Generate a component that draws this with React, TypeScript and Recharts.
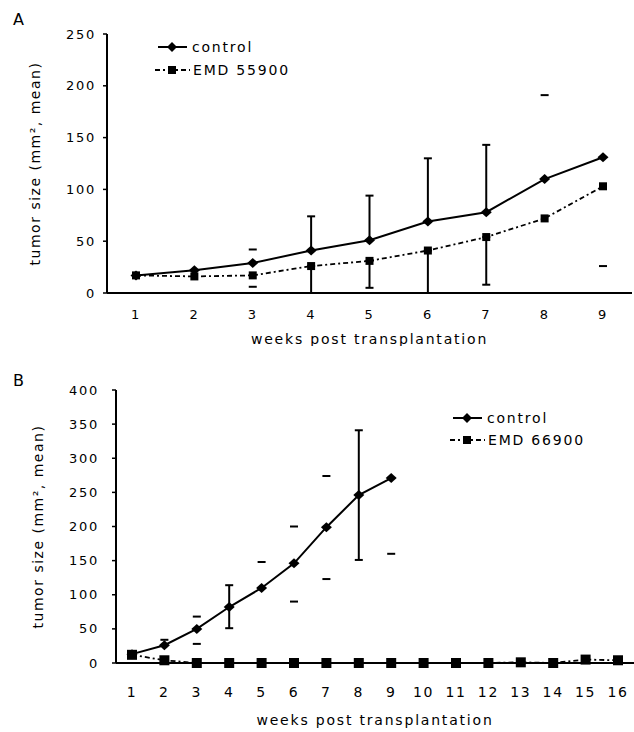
import React from 'react';
import { LineChart, Line, XAxis, YAxis, ErrorBar } from 'recharts';

// ---------- Panel A data ----------
const weeksA = [1, 2, 3, 4, 5, 6, 7, 8, 9];
const controlA = [17, 22, 29, 41, 51, 69, 78, 110, 131];
const emdA = [17, 16, 17, 26, 31, 41, 54, 72, 103];
const controlErrUpA = [null, null, null, 33, 43, 61, 65, null, null];
const emdErrDownA = [null, null, null, 26, 26, 41, 46, null, null];
const capHighA = [null, null, 42, null, null, null, null, 191, null];
const capLowA = [null, null, 6, null, null, null, null, null, 26];
const yTicksA = [0, 50, 100, 150, 200, 250];

// ---------- Panel B data ----------
const weeksB = [1, 2, 3, 4, 5, 6, 7, 8, 9, 10, 11, 12, 13, 14, 15, 16];
const controlB = [13, 26, 50, 82, 110, 146, 199, 246, 271, null, null, null, null, null, null, null];
const emdB = [12, 4, 0, 0, 0, 0, 0, 0, 0, 0, 0, 0, 1, 0, 5, 4];
const controlErrLowB = [null, null, null, 31, null, null, null, 95, null, null, null, null, null, null, null, null];
const controlErrHighB = [null, null, null, 32, null, null, null, 95, null, null, null, null, null, null, null, null];
const capHighB = [null, 34, 68, null, 148, 200, 274, null, null, null, null, null, null, null, null, null];
const capLowB = [null, null, 28, null, null, 90, 123, null, 160, null, null, null, null, null, null, null];
const yTicksB = [0, 50, 100, 150, 200, 250, 300, 350, 400];

const seriesNames = ['control'];
const drugA = 'EMD 55900';
const drugB = 'EMD 66900';
const xTitle = 'weeks post transplantation';
const yTitle = 'tumor size (mm², mean)';

const dataA = weeksA.map((w, i) => ({
  week: String(w),
  control: controlA[i],
  emd: emdA[i],
  ctrlErr: controlErrUpA[i] == null ? null : [0, controlErrUpA[i]],
  emdErr: emdErrDownA[i] == null ? null : [emdErrDownA[i], 0],
  capHigh: capHighA[i],
  capLow: capLowA[i],
}));

const dataB = weeksB.map((w, i) => ({
  week: String(w),
  control: controlB[i],
  emd: emdB[i],
  ctrlErr: controlErrLowB[i] == null ? null : [controlErrLowB[i], controlErrHighB[i]],
  capHigh: capHighB[i],
  capLow: capLowB[i],
}));

const FONT = 'DejaVu Sans';

const isEmpty = (p: any) =>
  p.cx == null || p.cy == null || p.value == null || (Array.isArray(p.value) && p.value[1] == null);

const makeDiamond = (hw: number, hh: number) => (p: any) => {
  const { cx, cy, index } = p;
  if (isEmpty(p)) return <g key={`d${index}`} />;
  return (
    <path key={`d${index}`} d={`M${cx},${cy - hh} L${cx + hw},${cy} L${cx},${cy + hh} L${cx - hw},${cy} Z`} fill="#000" />
  );
};

const makeSquare = (h: number) => (p: any) => {
  const { cx, cy, index } = p;
  if (isEmpty(p)) return <g key={`s${index}`} />;
  return <rect key={`s${index}`} x={cx - h} y={cy - h} width={h * 2} height={h * 2} fill="#000" />;
};

const capDot = (p: any) => {
  const { cx, cy, index } = p;
  if (isEmpty(p)) return <g key={`c${index}`} />;
  return <line key={`c${index}`} x1={cx - 4} x2={cx + 4} y1={cy} y2={cy} stroke="#000" strokeWidth={2} />;
};

const tickStyle = (size: number) => ({ fill: '#000', fontSize: size, fontFamily: FONT, letterSpacing: 1.7 });
const titleStyle = { fill: '#000', fontSize: 14, fontFamily: FONT, letterSpacing: 1.8 };

const DASH = '5 3 2 3';

const LegendBlock = ({ x, y, label2, gap }: { x: number; y: number; label2: string; gap: number }) => (
  <g>
    <line x1={x + 3} x2={x + 32} y1={y} y2={y} stroke="#000" strokeWidth={2} />
    <path d={`M${x + 17},${y - 5} L${x + 22},${y} L${x + 17},${y + 5} L${x + 12},${y} Z`} fill="#000" />
    <text x={x + 37} y={y} dominantBaseline="central" fontFamily={FONT} fontSize={14} letterSpacing={1.8} fill="#000">
      {seriesNames[0]}
    </text>
    <line x1={x} x2={x + 35} y1={y + gap} y2={y + gap} stroke="#000" strokeWidth={2} strokeDasharray={DASH} />
    <rect x={x + 13} y={y + gap - 4} width={8} height={8} fill="#000" />
    <text x={x + 38} y={y + gap} dominantBaseline="central" fontFamily={FONT} fontSize={14} letterSpacing={1.8} fill="#000">
      {label2}
    </text>
  </g>
);

export default function App() {
  return (
    <div style={{ position: 'absolute', left: 0, top: 0, width: 634, height: 732, background: '#fff' }}>
      <div style={{ position: 'absolute', left: 0, top: 0 }}>
        <LineChart width={634} height={346} data={dataA} margin={{ top: 34, right: 2, bottom: 0, left: 0 }}>
          <XAxis
            dataKey="week"
            padding={{ left: 29, right: 29 }}
            tickLine={false}
            tickSize={0}
            tickMargin={17}
            height={53}
            axisLine={{ stroke: '#000', strokeWidth: 2 }}
            tick={tickStyle(13)}
            interval={0}
            label={{ value: xTitle, position: 'insideBottom', offset: 2, style: titleStyle }}
          />
          <YAxis
            width={107}
            domain={[0, 250]}
            ticks={yTicksA}
            interval={0}
            tickSize={4}
            tickMargin={7}
            axisLine={{ stroke: '#000', strokeWidth: 2 }}
            tickLine={{ stroke: '#000', strokeWidth: 1.5 }}
            tick={tickStyle(13)}
            label={{ value: yTitle, angle: -90, position: 'insideLeft', offset: 35, style: { ...titleStyle, letterSpacing: 1.5, textAnchor: 'middle' } }}
          />
          <Line dataKey="emd" stroke="#000" strokeWidth={1.8} strokeDasharray={DASH} dot={makeSquare(4)} activeDot={false} isAnimationActive={false}>
            <ErrorBar dataKey="emdErr" direction="y" width={4} stroke="#000" strokeWidth={2} isAnimationActive={false} />
          </Line>
          <Line dataKey="control" stroke="#000" strokeWidth={2} dot={makeDiamond(5.5, 5)} activeDot={false} isAnimationActive={false}>
            <ErrorBar dataKey="ctrlErr" direction="y" width={4} stroke="#000" strokeWidth={2} isAnimationActive={false} />
          </Line>
          <Line dataKey="capHigh" stroke="none" dot={capDot} activeDot={false} isAnimationActive={false} />
          <Line dataKey="capLow" stroke="none" dot={capDot} activeDot={false} isAnimationActive={false} />
        </LineChart>
      </div>
      <div style={{ position: 'absolute', left: 0, top: 346 }}>
        <LineChart width={634} height={386} data={dataB} margin={{ top: 44, right: 0, bottom: 0, left: 0 }}>
          <XAxis
            dataKey="week"
            padding={{ left: 16, right: 16 }}
            tickLine={false}
            tickSize={0}
            tickMargin={24}
            height={69}
            axisLine={{ stroke: '#000', strokeWidth: 2 }}
            tick={tickStyle(14)}
            interval={0}
            label={{ value: xTitle, position: 'insideBottom', offset: 7, style: titleStyle }}
          />
          <YAxis
            width={116}
            domain={[0, 400]}
            ticks={yTicksB}
            interval={0}
            tickSize={4}
            tickMargin={13}
            axisLine={{ stroke: '#000', strokeWidth: 2 }}
            tickLine={{ stroke: '#000', strokeWidth: 1.5 }}
            tick={tickStyle(13)}
            label={{ value: yTitle, angle: -90, position: 'insideLeft', offset: 38, style: { ...titleStyle, letterSpacing: 1.5, textAnchor: 'middle' } }}
          />
          <Line dataKey="emd" stroke="#000" strokeWidth={1.8} strokeDasharray={DASH} dot={makeSquare(5)} activeDot={false} isAnimationActive={false} />
          <Line dataKey="control" stroke="#000" strokeWidth={2} dot={makeDiamond(5.5, 5)} activeDot={false} isAnimationActive={false}>
            <ErrorBar dataKey="ctrlErr" direction="y" width={4} stroke="#000" strokeWidth={2} isAnimationActive={false} />
          </Line>
          <Line dataKey="capHigh" stroke="none" dot={capDot} activeDot={false} isAnimationActive={false} />
          <Line dataKey="capLow" stroke="none" dot={capDot} activeDot={false} isAnimationActive={false} />
        </LineChart>
      </div>
      <svg width={634} height={732} style={{ position: 'absolute', left: 0, top: 0, pointerEvents: 'none' }}>
        <text x={13} y={25} fontFamily={FONT} fontSize={16} fill="#000">A</text>
        <text x={13} y={386} fontFamily={FONT} fontSize={16} fill="#000">B</text>
        <LegendBlock x={155} y={47} label2={drugA} gap={23} />
        <LegendBlock x={450} y={418} label2={drugB} gap={22} />
      </svg>
    </div>
  );
}
